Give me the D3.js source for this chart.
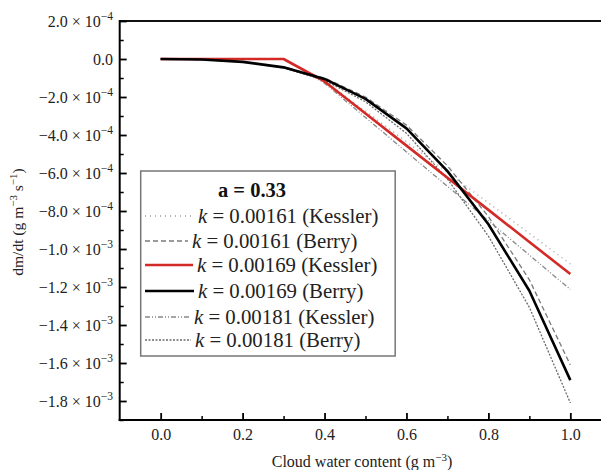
<!DOCTYPE html>
<html><head><meta charset="utf-8">
<script src="https://cdn.jsdelivr.net/npm/d3@7"></script>
<style>
body{margin:0;background:#fff;}
svg text{font-family:"Liberation Serif","Times New Roman",Times,"DejaVu Serif",serif !important;}
</style></head>
<body><svg id="c" width="601" height="470" font-family="Liberation Serif, Times New Roman, serif"></svg>
<script>
// ---- data ----
const xValues = [0,0.1,0.2,0.3,0.4,0.5,0.6,0.7,0.8,0.9,1.0];
const kessler161 = [0,0,0,0,-1.13e-4,-2.74e-4,-4.35e-4,-5.96e-4,-7.57e-4,-9.18e-4,-1.079e-3];
const berry161   = [0,-0.03e-4,-0.14e-4,-0.42e-4,-1.00e-4,-2.00e-4,-3.48e-4,-5.62e-4,-8.29e-4,-11.62e-4,-16.10e-4];
const kessler169 = [0,0,0,0,-1.18e-4,-2.87e-4,-4.56e-4,-6.25e-4,-7.94e-4,-9.63e-4,-1.132e-3];
const berry169   = [0,-0.03e-4,-0.15e-4,-0.44e-4,-1.05e-4,-2.10e-4,-3.65e-4,-5.90e-4,-8.70e-4,-12.20e-4,-16.90e-4];
const kessler181 = [0,0,0,0,-1.27e-4,-3.08e-4,-4.89e-4,-6.70e-4,-8.51e-4,-1.032e-3,-1.213e-3];
const berry181   = [0,-0.03e-4,-0.16e-4,-0.47e-4,-1.12e-4,-2.25e-4,-3.91e-4,-6.32e-4,-9.32e-4,-13.07e-4,-18.10e-4];
const seriesLabels = ["0.00161 (Kessler)","0.00161 (Berry)","0.00169 (Kessler)","0.00169 (Berry)","0.00181 (Kessler)","0.00181 (Berry)"];
const xTicks = [0,0.2,0.4,0.6,0.8,1.0];
const xTickLabels = ["0.0","0.2","0.4","0.6","0.8","1.0"];
const yTicks = [2e-4,0,-2e-4,-4e-4,-6e-4,-8e-4,-1.0e-3,-1.2e-3,-1.4e-3,-1.6e-3,-1.8e-3];
const yTickMant = ["2.0","0.0","\u22122.0","\u22124.0","\u22126.0","\u22128.0","\u22121.0","\u22121.2","\u22121.4","\u22121.6","\u22121.8"];
const yTickExp  = ["\u22124",null,"\u22124","\u22124","\u22124","\u22124","\u22123","\u22123","\u22123","\u22123","\u22123"];
const legendTitle = "a = 0.33";

// ---- styles ----
const FONT = "Liberation Serif, Times New Roman, serif";
const styles = [
  {color:"#9a9a9a", width:1.3, dash:"1,4"},
  {color:"#7a7a7a", width:1.3, dash:"5,3"},
  {color:"#d42a27", width:2.6, dash:null},
  {color:"#000000", width:2.6, dash:null},
  {color:"#888888", width:1.3, dash:"5,2,1,2,1,2"},
  {color:"#6a6a6a", width:1.3, dash:"2,1.5"}
];
const allSeries = [kessler161,berry161,kessler169,berry169,kessler181,berry181];

const svg = d3.select("#c");
const x = d3.scaleLinear().domain([-0.1,1.1]).range([119.7,611.3]);
const y = d3.scaleLinear().domain([-1.9e-3,2.0e-4]).range([420,21]);

const line = d3.line().x((d,i)=>x(xValues[i])).y(d=>y(d));
const order = [0,1,4,5,2,3];
order.forEach(si=>{
  const s = styles[si];
  svg.append("path").datum(allSeries[si]).attr("d",line)
    .attr("fill","none").attr("stroke",s.color).attr("stroke-width",s.width)
    .attr("stroke-dasharray",s.dash).attr("stroke-linejoin","round");
});

// axes frame
svg.append("line").attr("x1",x(-0.1)).attr("x2",x(1.1)).attr("y1",y(2e-4)).attr("y2",y(2e-4)).attr("stroke","#111").attr("stroke-width",2);
svg.append("line").attr("x1",x(-0.1)).attr("x2",x(-0.1)).attr("y1",y(2e-4)-1).attr("y2",y(-1.9e-3)+1).attr("stroke","#000").attr("stroke-width",2);
svg.append("line").attr("x1",x(-0.1)-1).attr("x2",x(1.1)).attr("y1",y(-1.9e-3)).attr("y2",y(-1.9e-3)).attr("stroke","#000").attr("stroke-width",2);

// x axis ticks (inward)
const xAxis = d3.axisBottom(x).tickValues(xTicks).tickSize(-7).tickPadding(9).tickFormat((d,i)=>xTickLabels[i]);
const gx = svg.append("g").attr("transform",`translate(0,${y(-1.9e-3)})`).call(xAxis);
gx.attr("font-family",FONT).attr("font-size",16);
gx.select(".domain").remove();
gx.selectAll(".tick line").attr("stroke-width",1.8);
gx.selectAll(".tick text").attr("fill","#222");
const xMinor = d3.axisBottom(x).tickValues([0.1,0.3,0.5,0.7,0.9]).tickSize(-4).tickFormat("");
const gxm = svg.append("g").attr("transform",`translate(0,${y(-1.9e-3)})`).call(xMinor);
gxm.select(".domain").remove(); gxm.selectAll(".tick line").attr("stroke-width",1.5);

// y axis ticks
const yAxis = d3.axisLeft(y).tickValues(yTicks).tickSize(-7).tickFormat("");
const gy = svg.append("g").attr("transform",`translate(${x(-0.1)},0)`).call(yAxis);
gy.select(".domain").remove(); gy.selectAll(".tick line").attr("stroke-width",1.8);
const minorY = d3.range(-19,2).map(v=>v*1e-4).filter(v=>!yTicks.some(t=>Math.abs(t-v)<1e-6));
const yMinor = d3.axisLeft(y).tickValues(minorY).tickSize(-4).tickFormat("");
const gym = svg.append("g").attr("transform",`translate(${x(-0.1)},0)`).call(yMinor);
gym.select(".domain").remove(); gym.selectAll(".tick line").attr("stroke-width",1.5);

// y tick labels with superscripts
yTicks.forEach((t,i)=>{
  const tx = svg.append("text").attr("x",113).attr("y",y(t)+5.5).attr("text-anchor","end")
    .attr("font-family",FONT).attr("font-size",16).attr("fill","#222");
  if (yTickExp[i]) {
    tx.append("tspan").text(yTickMant[i] + " \u00d7 10");
    tx.append("tspan").attr("dy",-6.5).attr("font-size",11.5).text(yTickExp[i]);
  } else {
    tx.append("tspan").text(yTickMant[i]);
  }
});

// axis titles
const xt = svg.append("text").attr("x",362).attr("y",467).attr("text-anchor","middle").attr("font-family",FONT).attr("font-size",16).attr("fill","#222");
xt.append("tspan").text("Cloud water content (g m");
xt.append("tspan").attr("dy",-6).attr("font-size",11).text("\u22123");
xt.append("tspan").attr("dy",6).text(")");

const yt = svg.append("text").attr("transform","translate(23,222) rotate(-90)").attr("text-anchor","middle").attr("font-family",FONT).attr("font-size",15.5).attr("fill","#222");
yt.append("tspan").text("dm/dt (g m");
yt.append("tspan").attr("dy",-6).attr("font-size",11).text("\u22123");
yt.append("tspan").attr("dy",6).text(" s");
yt.append("tspan").attr("dy",-6).attr("font-size",11).text("\u22121");
yt.append("tspan").attr("dy",6).text(")");

// legend
const lg = svg.append("g").attr("font-family",FONT);
lg.append("rect").attr("x",140.7).attr("y",171).attr("width",254.5).attr("height",185)
  .attr("fill","#fff").attr("stroke","#777").attr("stroke-width",1.5);
lg.append("text").attr("x",252).attr("y",197).attr("text-anchor","middle").attr("font-size",20.5)
  .attr("font-weight","bold").attr("fill","#111").text(legendTitle);
const rowY = [216,241,265,291,317,340];
const textX = [198,192,197,198,194,195];
seriesLabels.forEach((lab,i)=>{
  const s = styles[i];
  lg.append("line").attr("x1",145).attr("x2",textX[i]-4).attr("y1",rowY[i]).attr("y2",rowY[i])
    .attr("stroke",s.color).attr("stroke-width",s.width).attr("stroke-dasharray",s.dash);
  const t = lg.append("text").attr("x",textX[i]).attr("y",rowY[i]+6.5).attr("font-size",20.8).attr("fill","#222");
  t.append("tspan").attr("font-style","italic").text("k");
  t.append("tspan").text(" = " + lab);
});
</script></body></html>
